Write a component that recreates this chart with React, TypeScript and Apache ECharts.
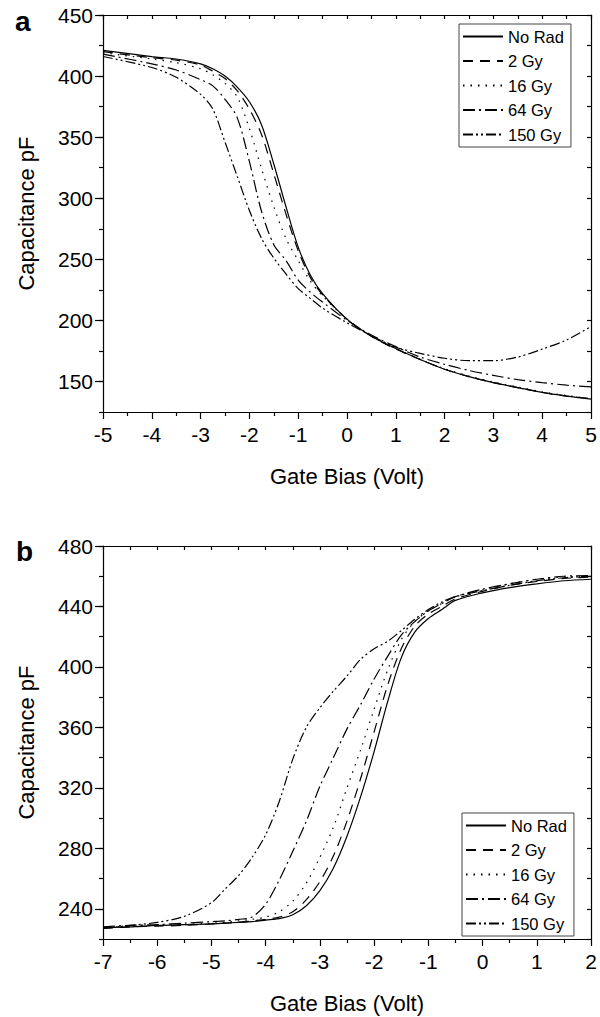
import React, { useEffect, useRef } from 'react';
import * as echarts from 'echarts';

const FONT = "'Liberation Sans', Arial, Helvetica, sans-serif";

const seriesNames = ['No Rad', '2 Gy', '16 Gy', '64 Gy', '150 Gy'];

// Panel a: gate bias grid (V) and capacitance (pF)
const aGate = [-5, -4, -3.5, -3, -2.75, -2.5, -2.25, -2, -1.75, -1.5, -1.25, -1, -0.75, -0.5, 0, 0.5, 1, 1.5, 2, 2.5, 3, 3.5, 4, 4.5, 5];
const aNoRad = [421, 416, 414, 410, 406, 400, 391, 379, 360, 328, 293, 260, 237, 222, 201, 187, 177, 168, 160, 154, 149, 145, 141, 138, 135.5];
const a2Gy = [420, 415, 413, 409, 404, 398, 388, 373, 352, 320, 287, 257, 235, 221, 201, 187, 176.5, 168, 160, 154, 149, 145, 141, 138, 136];
const a16Gy = [419, 414, 411, 406, 401, 394, 383, 357, 324, 293, 267, 249, 232, 220, 201, 187, 177, 168, 160.5, 154.5, 149.5, 145.5, 141.5, 138.5, 136];
const a64Gy = [418, 410, 405, 397, 392, 381, 366, 330, 289, 262, 249, 233, 223, 215, 200, 188, 178.5, 170, 164, 159, 155, 151.5, 149, 147, 145.5];
const a150Gy = [416, 407, 399, 385, 373, 346, 318, 290, 267, 251, 238, 226, 218, 210, 198, 187.5, 178, 173, 169, 167, 167, 170, 176.5, 184, 195];

// Panel b
const bGate = [-7, -6.5, -6, -5.5, -5, -4.75, -4.5, -4.25, -4, -3.75, -3.5, -3.25, -3, -2.75, -2.5, -2.25, -2, -1.75, -1.5, -1.25, -1, -0.75, -0.5, 0, 0.5, 1, 1.5, 2];
const bNoRad = [227.5, 228, 229, 229.5, 230, 230.5, 231, 231.5, 232.5, 233.5, 236, 242, 252, 267, 288, 314, 344, 377, 406, 423, 432, 438, 444, 449, 452.5, 455, 457, 458];
const b2Gy = [227, 228, 228.5, 229, 230, 230.5, 231, 232, 233, 234.5, 238, 246, 258, 275, 298, 326, 357, 388, 412, 427, 435, 440, 445, 450, 454, 456.5, 458.5, 459.5];
const b16Gy = [228, 228.5, 229, 229.5, 230.5, 231, 232, 233, 234.5, 238, 245, 257, 274, 294, 320, 345, 372, 398, 418, 430, 437, 442, 446.5, 451, 455, 458, 459.5, 460];
const b64Gy = [228, 229, 229.5, 230.5, 231.5, 232, 233, 234.5, 243, 259, 278, 298, 321, 340, 359, 375, 392, 407, 421, 430, 437, 442, 446.5, 451.5, 455, 458, 460, 460.5];
const b150Gy = [227, 229, 231, 235, 244, 253, 262, 274, 289, 311, 339, 360, 373, 384, 394, 405, 412, 417, 424, 431.5, 438, 443, 446.5, 450.5, 454, 457, 459, 460];

const aXRange = [-5, 5];
const bXRange = [-7, 2];
const aYMajor = [150, 200, 250, 300, 350, 400, 450];
const bYMajor = [240, 280, 320, 360, 400, 440, 480];

const dashes: any[] = ['solid', [10, 7], [1.5, 6], [12, 4, 2, 4], [10, 3, 2, 3, 2, 3]];

const LINE = { color: '#000', width: 1.2 };

function zip(xs: number[], ys: number[]) {
  return xs.map((x, i) => [x, ys[i]]);
}

function xAxes(gridIndex: number, min: number, max: number) {
  return [
    {
      gridIndex, type: 'value', min, max, interval: 1, position: 'bottom',
      axisLine: { show: true, onZero: false, lineStyle: LINE },
      axisTick: { show: true, inside: false, length: 7, lineStyle: LINE },
      minorTick: { show: true, splitNumber: 2, length: 4, lineStyle: LINE },
      axisLabel: { fontSize: 21, color: '#000', fontFamily: FONT, margin: 12 },
      splitLine: { show: false },
      name: 'Gate Bias (Volt)', nameLocation: 'middle', nameGap: 53,
      nameTextStyle: { fontSize: 22, color: '#000', fontFamily: FONT },
    },
    {
      gridIndex, type: 'value', min, max, interval: 0.5, position: 'top',
      axisLine: { show: true, onZero: false, lineStyle: LINE },
      axisTick: { show: true, inside: true, length: 4, lineStyle: LINE },
      axisLabel: { show: false }, splitLine: { show: false },
    },
  ];
}

function yAxes(gridIndex: number, min: number, max: number, minorStep: number, major: number[]) {
  return [
    {
      gridIndex, type: 'value', min, max, interval: minorStep, position: 'left',
      axisLine: { show: true, onZero: false, lineStyle: LINE },
      axisTick: { show: true, inside: false, length: 8, lineStyle: LINE, customValues: major },
      axisLabel: {
        fontSize: 21, color: '#000', fontFamily: FONT, margin: 10, customValues: major,
        formatter: (v: number) => (major.indexOf(v) >= 0 ? String(v) : ''),
      },
      splitLine: { show: false },
      name: 'Capacitance pF', nameLocation: 'middle', nameGap: 66,
      nameTextStyle: { fontSize: 22, color: '#000', fontFamily: FONT },
    },
    {
      gridIndex, type: 'value', min, max, interval: minorStep, position: 'left',
      axisLine: { show: false, onZero: false },
      axisTick: { show: true, inside: false, length: 4, lineStyle: LINE },
      axisLabel: { show: false }, splitLine: { show: false },
    },
    {
      gridIndex, type: 'value', min, max, interval: minorStep, position: 'right',
      axisLine: { show: true, onZero: false, lineStyle: LINE },
      axisTick: { show: true, inside: true, length: 4, lineStyle: LINE },
      axisLabel: { show: false }, splitLine: { show: false },
    },
  ];
}

export default function App() {
  const ref = useRef<HTMLDivElement>(null);
  useEffect(() => {
    if (!ref.current) return;
    const chart = echarts.init(ref.current, undefined, { renderer: 'svg' });
    const aData = [aNoRad, a2Gy, a16Gy, a64Gy, a150Gy];
    const bData = [bNoRad, b2Gy, b16Gy, b64Gy, b150Gy];
    const mk = (data: number[][], i: number, xi: number, yi: number) => ({
      type: 'line', name: seriesNames[i], xAxisIndex: xi, yAxisIndex: yi,
      data, smooth: 0.3, symbol: 'none', showSymbol: false,
      lineStyle: { color: '#000', width: 1.2, type: dashes[i] },
      itemStyle: { color: '#000' },
    });
    const series: any[] = [];
    aData.forEach((ys, i) => series.push(mk(zip(aGate, ys), i, 0, 0)));
    bData.forEach((ys, i) => series.push(mk(zip(bGate, ys), i, 2, 3)));

    const legendBase = {
      orient: 'vertical', data: seriesNames, itemWidth: 40, itemHeight: 14, itemGap: 7.5,
      padding: [4, 7, 4, 3], borderColor: '#444', borderWidth: 1, backgroundColor: '#fff',
      textStyle: { fontSize: 16.5, color: '#000', fontFamily: FONT },
      itemStyle: { color: 'rgba(0,0,0,0)', borderWidth: 0, opacity: 0 },
      selectedMode: false,
    };

    chart.setOption({
      animation: false,
      backgroundColor: '#fff',
      title: [
        { text: 'a', left: 10, top: 2, textStyle: { fontSize: 28, fontWeight: 'bold', color: '#000', fontFamily: FONT } },
        { text: 'b', left: 11, top: 532, textStyle: { fontSize: 28, fontWeight: 'bold', color: '#000', fontFamily: FONT } },
      ],
      grid: [
        { left: 103, top: 15, width: 488, height: 397 },
        { left: 103, top: 546, width: 488, height: 393 },
      ],
      xAxis: [...xAxes(0, aXRange[0], aXRange[1]), ...xAxes(1, bXRange[0], bXRange[1])],
      yAxis: [...yAxes(0, 125, 450, 25, aYMajor), ...yAxes(1, 220, 480, 20, bYMajor)],
      legend: [
        { ...legendBase, left: 459, top: 24 },
        { ...legendBase, left: 462, top: 813 },
      ],
      series,
    });
    return () => chart.dispose();
  }, []);
  return <div ref={ref} style={{ position: 'absolute', left: 0, top: 0, width: 600, height: 1017 }} />;
}
